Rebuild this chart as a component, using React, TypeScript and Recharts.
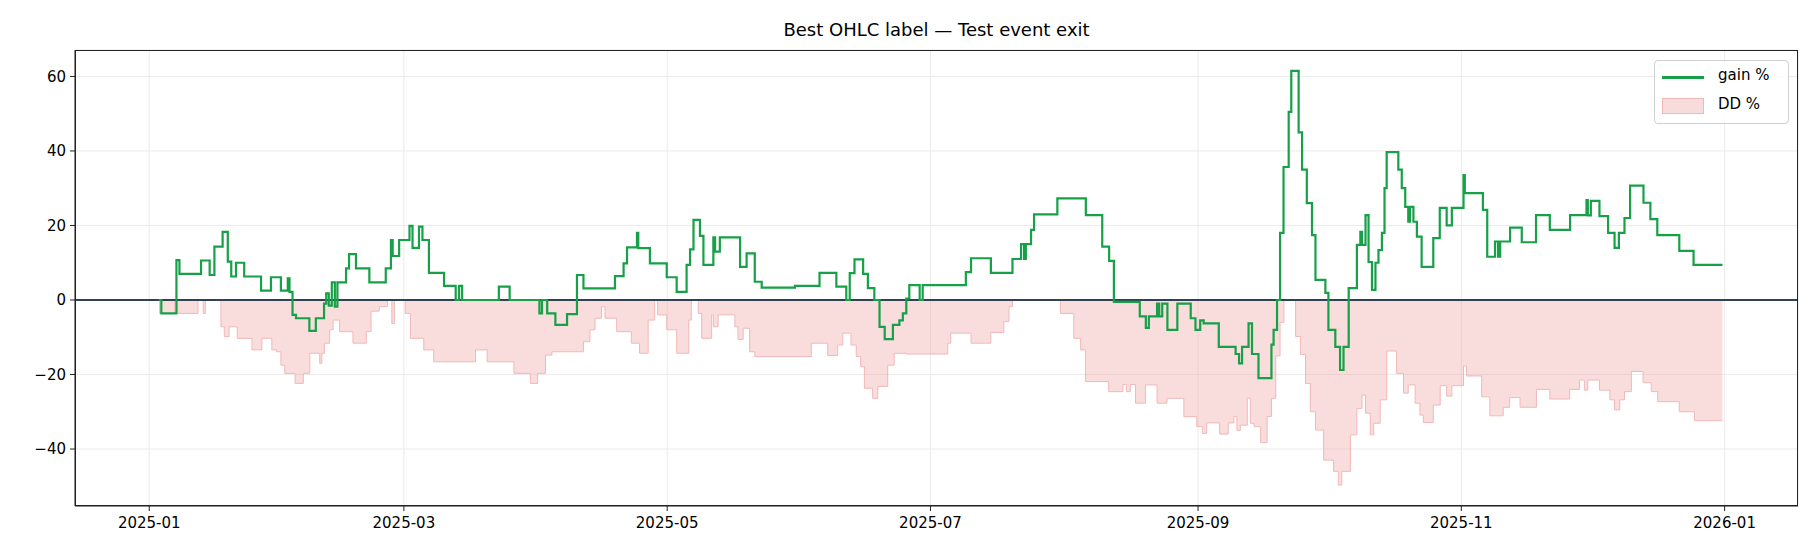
import React from "react";
import { ComposedChart, Line, Area, XAxis, YAxis, CartesianGrid, ReferenceLine } from "recharts";

// x = days since 2025-01-01
const gainPoints: [number, number][] = [
  [2.2, 0], [2.8, -3.6], [6.3, 10.7], [7, 7], [12, 10.6], [14, 6.7], [15.1, 14.3], [17, 18.3], [18.2, 10.3], [19, 6.3],
  [20.1, 10], [22, 6.3], [25.9, 2.5], [28.2, 6.1], [30.5, 2.5], [32.1, 5.8], [32.5, 2.2], [33.2, -4], [34, -4.9],
  [37.1, -8.3], [38.6, -4.9], [40.5, -1], [41, 1.8], [41.6, -1.5], [42.3, 4.7], [43, -1.8], [43.6, 4.7], [45.6, 8.5],
  [46.3, 12.3], [47.9, 8.5], [51, 4.7], [54.8, 8.5], [56, 16.1], [56.4, 11.8], [57.9, 16.1], [60.3, 19.9], [61, 14],
  [62.5, 19.7], [63.3, 16.1], [64.8, 7.3], [68.3, 3.8], [71, 0], [71.8, 3.8], [72.5, 0], [81, 3.6], [83.5, 0],
  [90.4, -3.6], [91, 0], [92.2, -3.6], [94.1, -6.7], [96.8, -3.8], [99.1, 6.7], [100.6, 3.1], [107.9, 6.4],
  [109.9, 9.8], [110.7, 14.1], [113, 18], [113.3, 13.9], [116, 9.8], [119.9, 6.1], [122.2, 2.2], [124.5, 9.4],
  [125.3, 13.6], [126.1, 21.5], [127.6, 17.2], [128.4, 9.4], [130.7, 16.8], [131.1, 13], [132.2, 16.8], [136.9, 8.9],
  [138.4, 12.5], [140.3, 4.9], [141.9, 3.3], [149.6, 3.8], [155.3, 7.3], [159.2, 3.6], [161.5, 0], [162.3, 7.2],
  [163.4, 10.9], [165.4, 7], [166.5, 3.2], [168, 0], [169.2, -7.2], [170.4, -10.5], [172.3, -6.7], [173.8, -5.5],
  [174.6, -3.6], [175.4, 0.4], [176.1, 4], [178.5, 0], [179.2, 4], [189.2, 7.5], [190.4, 11.2], [195, 7.3], [200, 11],
  [202, 15], [202.7, 11], [203.1, 15], [204.3, 18.8], [205, 23], [210.4, 27.3], [217, 22.8], [220.8, 14.3],
  [222.4, 10.5], [223.5, -0.5], [229.5, -4.4], [230.9, -7.5], [231.6, -4.4], [233.5, -1], [234, -4.4], [234.7, -1],
  [235.9, -8], [238.2, -1], [241.3, -4.9], [242.4, -8], [243.5, -5.5], [244.3, -6.3], [247.8, -12.6], [251.7, -14.5],
  [252.5, -17], [253.2, -12.6], [254.7, -6.3], [255.5, -14.5], [257, -21], [260, -12], [260.5, -8], [261.3, 0],
  [262, 18], [262.8, 35.7], [264, 50.5], [264.6, 61.5], [265.6, 61.5], [266.3, 45], [267.1, 35], [268.2, 26],
  [269.4, 17.4], [270.2, 5.4], [272.5, 1.9], [273.2, -8], [274.8, -12.6], [275.9, -18.8], [276.7, -12.6],
  [277.9, 3.2], [279.8, 14.8], [280.6, 18.3], [281, 14.8], [281.8, 22.8], [282.5, 10.2], [283.3, 2.7], [284.1, 10],
  [284.8, 13.4], [285.6, 18], [286.2, 30], [286.7, 39.7], [288.6, 39.7], [289.4, 35], [290.2, 30], [291, 25],
  [291.7, 21], [292.1, 25], [292.9, 21], [293.7, 17], [294.8, 8.9], [297.1, 8.9], [297.5, 16.6], [299, 24.7],
  [300.6, 20], [301.8, 24.7], [304.5, 33.5], [304.8, 28.7], [309, 24.2], [310, 11.6], [311.8, 15.7], [312.5, 11.6],
  [313, 15.7], [315.3, 19.4], [318, 15.5], [321.3, 22.8], [324.5, 18.8], [329.2, 22.8], [333, 26.8], [333.3, 22.7],
  [334, 26.6], [336, 22.5], [338, 18], [339.5, 14], [340.5, 18], [341.8, 22], [343.1, 30.7], [346.2, 26.1],
  [347.8, 21.7], [349.4, 17.4], [354.5, 13.2], [357.8, 9.4], [364.5, 9.4],
];

const ddPoints: [number, number][] = [
  [2.2, 0], [2.4, -3.6], [5.9, 0], [6.6, -3.6], [11.3, 0], [12.5, -3.6], [13, 0], [16.6, -7.2], [17.4, -9.8],
  [18.5, -7.2], [20.4, -10.3], [23.8, -13.4], [26.1, -10.3], [28.4, -13.4], [29.5, -13.9], [30.5, -17.5],
  [31.4, -19.7], [33.8, -22.4], [35.7, -19.7], [37.2, -14.3], [39.5, -17], [40, -14.3], [40.6, -11.6], [41.8, -8],
  [42.6, -5.4], [44.1, -8.5], [47.2, -11.6], [50.3, -8.5], [51.4, -3], [53.3, -1.8], [55.2, 0], [56.2, -6.3],
  [56.8, 0], [59.3, -3.6], [60.5, -10.3], [63.6, -13.4], [65.9, -16.6], [75.6, -13.4], [78.3, -16.6], [84.5, -19.7],
  [88.3, -22.4], [90, -19.7], [91.8, -14.8], [93.3, -13.9], [100.6, -11.2], [102.1, -8], [103.3, -4.9],
  [104.8, -1.8], [105.6, -4.9], [108.3, -8.5], [111.7, -11.6], [113.6, -14.3], [115.6, -5.4], [117.1, 0],
  [117.8, -4], [119.9, -8], [122.2, -14.3], [125, -5.4], [125.6, 0], [127.2, -3.6], [128, -10.3], [130.3, -4],
  [130.7, -7.2], [131.8, -4], [135.7, -7.2], [136.4, -10.6], [137.6, -7.6], [139.1, -13.9], [140.3, -15.2],
  [153.4, -11.6], [157.2, -14.9], [159.5, -12.1], [160.7, -8.9], [162.6, -12.1], [163.8, -15.2], [164.8, -17.9],
  [165.7, -23.7], [167.6, -26.4], [168.8, -23.2], [171.1, -17.5], [172.6, -14.3], [175.3, -14.5], [185, -11.6],
  [185.7, -8.9], [190.4, -11.6], [195, -8.7], [198, -5.8], [199.2, -1.8], [200, 0], [211.1, -3.6], [214.2, -10.3],
  [215.8, -13.4], [216.9, -21.9], [222.3, -24.6], [225.6, -22.7], [226.4, -24.6], [227.3, -22.7], [228.5, -27.7],
  [230.8, -22.8], [233.5, -27.7], [235.8, -26.4], [239.7, -31.3], [242.7, -34], [244, -35.8], [245, -33],
  [248, -36], [250, -33], [251.3, -31.3], [252, -35], [252.8, -33.6], [254.4, -26.4], [255.1, -33.1], [256, -34],
  [257.5, -38.3], [259, -31.3], [260, -26.4], [261, -15], [262, -6], [262.9, 0], [265.6, -9.8], [266.7, -14.6],
  [267.9, -22.4], [269, -30], [270.2, -34.9], [272.1, -43], [274.4, -46], [275.5, -49.7], [276.3, -46],
  [278.3, -36.2], [279.8, -29.1], [281, -25.5], [281.8, -30.4], [282.9, -36.2], [283.7, -33.1], [285.2, -26.8],
  [286.7, -13.7], [289, -19.7], [290.6, -25], [291.7, -22.8], [293.3, -27.7], [294.4, -30.9], [295.2, -32.9],
  [297.5, -28.2], [299.1, -23], [300.6, -25.8], [301.8, -23], [304.5, -17.7], [305.2, -20.4], [308.7, -26],
  [310.6, -31.1], [313.7, -28.8], [315.2, -26.2], [317.6, -28.8], [321.4, -24], [324.5, -26.6], [329.1, -24],
  [331.4, -21.5], [332.5, -24.2], [333.3, -21.5], [336, -24.2], [338.4, -26.8], [339.5, -29.5], [340.7, -26.8],
  [341.8, -24.6], [343.4, -19.2], [346.1, -22.2], [348, -24.6], [349.5, -27.3], [354.5, -30], [358, -32.4],
  [364.5, -32.4],
];

const xTicks = [0, 59, 120, 181, 243, 304, 365];
const xTickLabels = ["2025-01", "2025-03", "2025-05", "2025-07", "2025-09", "2025-11", "2026-01"];
const yTicks = [-40, -20, 0, 20, 40, 60];

const gainData = gainPoints.map(([day, gain]) => ({ day, gain }));
const ddData = ddPoints.map(([day, dd]) => ({ day, dd }));

const FONT = "DejaVu Sans, sans-serif";
const PLOT = { left: 75, top: 50, right: 1798, bottom: 506 };

export default function App() {
  const tick = { fill: "#000", fontSize: 15, fontFamily: FONT };
  return (
    <div style={{ position: "absolute", left: 0, top: 0, width: 1820, height: 560, background: "#fff", fontFamily: FONT }}>
      <div style={{ position: "absolute", top: 19, left: PLOT.left, width: PLOT.right - PLOT.left, textAlign: "center", fontSize: 18 }}>
        Best OHLC label — Test event exit
      </div>
      <ComposedChart
        width={1820}
        height={560}
        margin={{ top: PLOT.top, left: 0, right: 1820 - PLOT.right, bottom: 0 }}
      >
        <CartesianGrid stroke="#ebebeb" strokeWidth={1} />
        <XAxis
          dataKey="day"
          type="number"
          domain={[-17.2, 382]}
          ticks={xTicks}
          tickFormatter={(v) => xTickLabels[xTicks.indexOf(v)] ?? ""}
          allowDuplicatedCategory={false}
          allowDataOverflow
          tick={tick}
          tickSize={5}
          tickMargin={6}
          stroke="#222"
          height={560 - PLOT.bottom}
        />
        <YAxis
          type="number"
          domain={[-55.3, 67.1]}
          ticks={yTicks}
          tickFormatter={(v) => (v < 0 ? `\u2212${Math.abs(v)}` : `${v}`)}
          tick={tick}
          tickSize={5}
          tickMargin={4}
          stroke="#222"
          width={PLOT.left}
          allowDataOverflow
        />
        <Area
          data={ddData}
          dataKey="dd"
          type="stepAfter"
          stroke="#f2b8b8"
          strokeWidth={1}
          fill="#f0a8a8"
          fillOpacity={0.4}
          baseValue={0}
          isAnimationActive={false}
          dot={false}
          activeDot={false}
        />
        <ReferenceLine y={0} stroke="#334155" strokeWidth={2} />
        <Line
          data={gainData}
          dataKey="gain"
          type="stepAfter"
          stroke="#16a047"
          strokeWidth={2.2}
          dot={false}
          activeDot={false}
          isAnimationActive={false}
        />
      </ComposedChart>
      <div
        style={{
          position: "absolute",
          left: PLOT.left,
          top: PLOT.top,
          width: PLOT.right - PLOT.left,
          height: PLOT.bottom - PLOT.top,
          border: "1.5px solid #222",
          boxSizing: "border-box",
          pointerEvents: "none",
        }}
      />
      <div
        style={{
          position: "absolute",
          left: 1654,
          top: 60,
          width: 135,
          height: 64,
          border: "1px solid #d0d0d0",
          borderRadius: 4,
          background: "rgba(255,255,255,0.8)",
          boxSizing: "border-box",
          fontSize: 15,
        }}
      >
        <div style={{ position: "absolute", left: 7, top: 15, width: 42, height: 2.5, background: "#16a047" }} />
        <div style={{ position: "absolute", left: 63, top: 5 }}>gain %</div>
        <div style={{ position: "absolute", left: 7, top: 37, width: 40, height: 14, background: "#f8dcdc", border: "1px solid #f2b8b8" }} />
        <div style={{ position: "absolute", left: 63, top: 34 }}>DD %</div>
      </div>
    </div>
  );
}
